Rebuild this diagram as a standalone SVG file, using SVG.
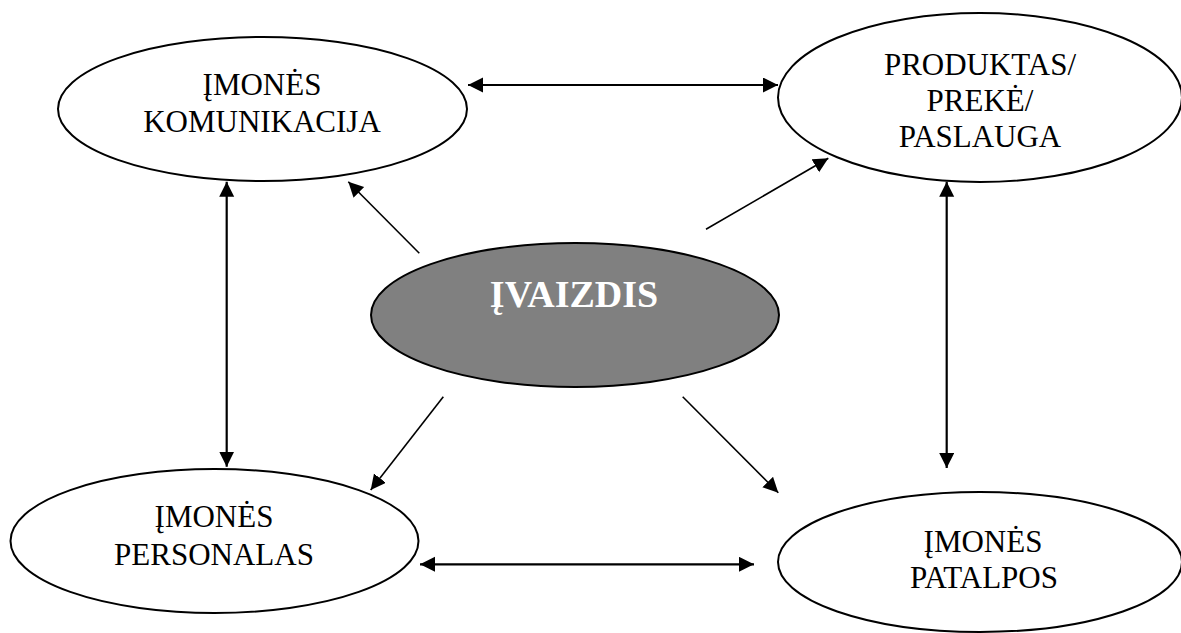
<svg xmlns="http://www.w3.org/2000/svg" width="1181" height="633" viewBox="0 0 1181 633">
<style>
.node{fill:#fff;stroke:#000;stroke-width:2}
.core{fill:#808080;stroke:#000;stroke-width:2}
.lbl{font-family:"Liberation Serif","Times New Roman",serif;font-size:31px;text-anchor:middle;fill:#000}
.big{font-family:"Liberation Serif","Times New Roman",serif;font-size:38px;font-weight:bold;text-anchor:middle;fill:#fff}
.thick{stroke:#000;stroke-width:2.2;fill:none}
.thin{stroke:#000;stroke-width:1.6;fill:none}
</style>
<defs>
<marker id="ah" markerUnits="userSpaceOnUse" markerWidth="16" markerHeight="16" refX="15" refY="7.5" orient="auto-start-reverse">
<path d="M0,0 L15,7.5 L0,15 z" fill="#000"/>
</marker>
</defs>
<rect width="1181" height="633" fill="#fff"/>
<g id="n-komunikacija">
<ellipse class="node" cx="262.5" cy="109" rx="204.5" ry="72"/>
<text class="lbl" x="262" y="95">ĮMONĖS</text>
<text class="lbl" x="262" y="132">KOMUNIKACIJA</text>
</g>
<g id="n-produktas">
<ellipse class="node" cx="980" cy="97.5" rx="202" ry="84.5"/>
<text class="lbl" x="980" y="75">PRODUKTAS/</text>
<text class="lbl" x="980" y="111">PREKĖ/</text>
<text class="lbl" x="980" y="147">PASLAUGA</text>
</g>
<g id="n-personalas">
<ellipse class="node" cx="214.5" cy="541" rx="204" ry="72"/>
<text class="lbl" x="214" y="527">ĮMONĖS</text>
<text class="lbl" x="214" y="565">PERSONALAS</text>
</g>
<g id="n-patalpos">
<ellipse class="node" cx="980" cy="562" rx="202" ry="70"/>
<text class="lbl" x="983" y="552">ĮMONĖS</text>
<text class="lbl" x="984" y="588">PATALPOS</text>
</g>
<g id="n-ivaizdis">
<ellipse class="core" cx="575" cy="315" rx="204" ry="72"/>
<text class="big" x="574" y="307">ĮVAIZDIS</text>
</g>
<g id="connectors">
<line class="thick" x1="468" y1="85" x2="778" y2="85" marker-start="url(#ah)" marker-end="url(#ah)"/>
<line class="thick" x1="226.7" y1="181.7" x2="226.7" y2="466.7" marker-start="url(#ah)" marker-end="url(#ah)"/>
<line class="thick" x1="946.7" y1="181.7" x2="946.7" y2="468" marker-start="url(#ah)" marker-end="url(#ah)"/>
<line class="thick" x1="420" y1="564.3" x2="754" y2="564.3" marker-start="url(#ah)" marker-end="url(#ah)"/>
<line class="thin" x1="419.3" y1="253.3" x2="348.3" y2="181.7" marker-end="url(#ah)"/>
<line class="thin" x1="706" y1="229.3" x2="828.3" y2="158.3" marker-end="url(#ah)"/>
<line class="thin" x1="443.3" y1="396.7" x2="370.7" y2="490" marker-end="url(#ah)"/>
<line class="thin" x1="682.7" y1="396.7" x2="778.3" y2="492.7" marker-end="url(#ah)"/>
</g>
</svg>
